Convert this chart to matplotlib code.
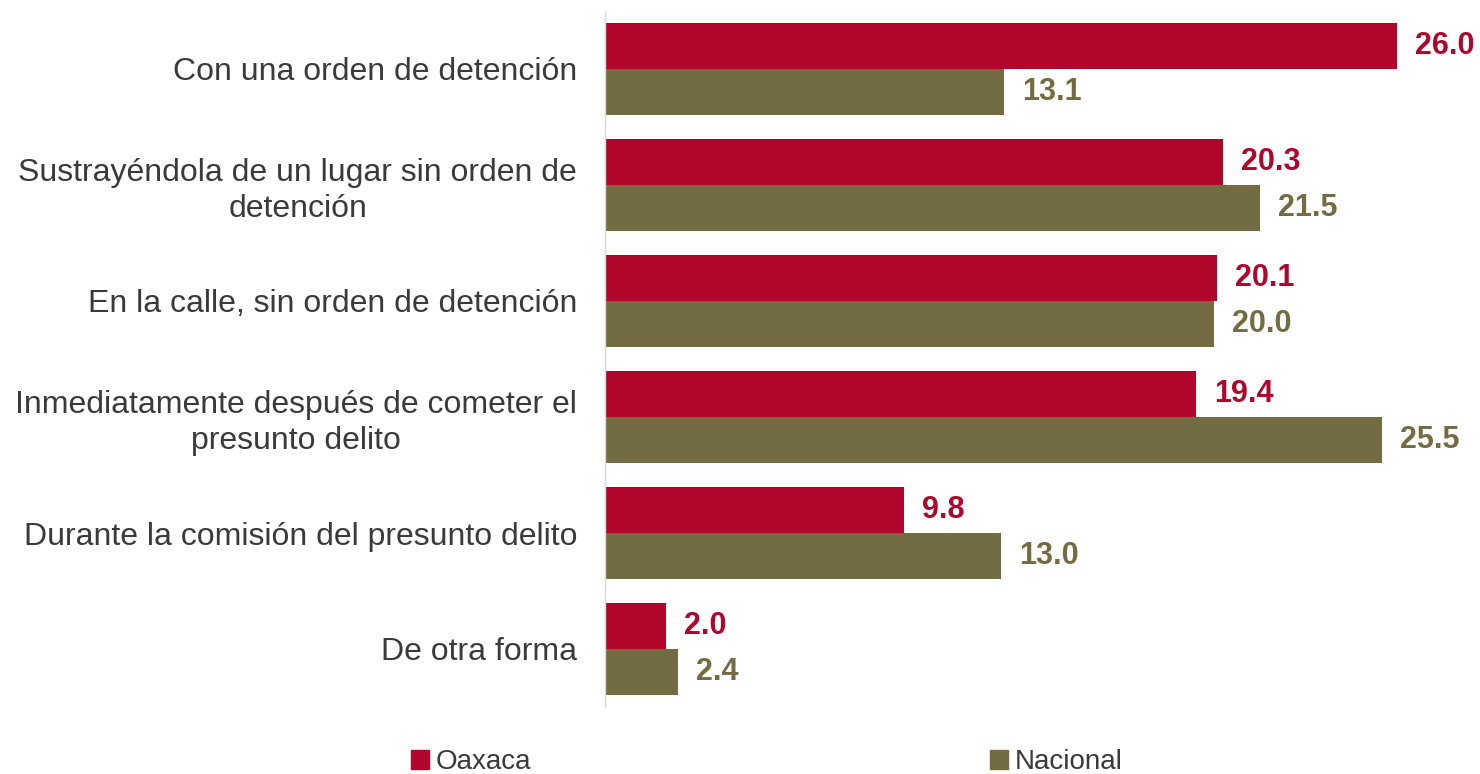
import matplotlib
matplotlib.use("Agg")
import matplotlib.pyplot as plt
from matplotlib.patches import Patch
import numpy as np

plt.rcParams['font.family'] = ['Liberation Sans', 'DejaVu Sans']

categories = [
    "Con una orden de detención",
    "Sustrayéndola de un lugar sin orden de\ndetención",
    "En la calle, sin orden de detención",
    "Inmediatamente después de cometer el\npresunto delito",
    "Durante la comisión del presunto delito",
    "De otra forma",
]
oaxaca = [26.0, 20.3, 20.1, 19.4, 9.8, 2.0]
nacional = [13.1, 21.5, 20.0, 25.5, 13.0, 2.4]
series_names = ["Oaxaca", "Nacional"]
colors = ["#B0062C", "#736B41"]

fig = plt.figure(figsize=(14.8, 7.74), dpi=100)
ax = fig.add_axes([605/1480, 1-707/774, (1458-605)/1480, (707-11)/774])

y = np.arange(len(categories))
h = 0.4
ax.barh(y - h/2, oaxaca, height=h, color=colors[0])
ax.barh(y + h/2, nacional, height=h, color=colors[1])

for yi, v in zip(y - h/2, oaxaca):
    ax.annotate(f"{v:.1f}", (v, yi), xytext=(13, 0), textcoords="offset points",
                ha="left", va="center", fontsize=22, fontweight="bold", color=colors[0])
for yi, v in zip(y + h/2, nacional):
    ax.annotate(f"{v:.1f}", (v, yi), xytext=(13, 0), textcoords="offset points",
                ha="left", va="center", fontsize=22, fontweight="bold", color=colors[1])

ax.set_ylim(len(categories) - 0.5, -0.5)
ax.set_xlim(0, 28)
ax.set_yticks(y)
ax.set_yticklabels(categories, fontsize=23, color="#3A3A3A", multialignment="center",
                   linespacing=1.25)
ax.tick_params(axis="y", length=0, pad=20)
ax.set_xticks([])
for s in ["top", "right", "bottom"]:
    ax.spines[s].set_visible(False)
ax.spines["left"].set_color("#D9D9D9")
ax.spines["left"].set_linewidth(1)

handles = [Patch(color=c, label=n) for c, n in zip(colors, series_names)]
fig.legend(handles=handles, loc="center", bbox_to_anchor=(0.518, 1-762/774), ncol=2,
           frameon=False, fontsize=20, handlelength=0.65, handleheight=0.65,
           handletextpad=0.25, columnspacing=16.5, labelcolor="#3A3A3A",
           borderpad=0, borderaxespad=0)

fig.savefig("out.png", dpi=100)
